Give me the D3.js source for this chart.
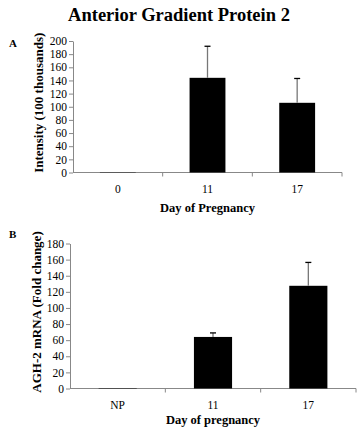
<!DOCTYPE html>
<html>
<head>
<meta charset="utf-8">
<script src="https://cdn.jsdelivr.net/npm/d3@7"></script>
<style>
  body { margin: 0; background: #fff; }
  text { font-family: "Liberation Serif", "Times New Roman", serif; }
</style>
</head>
<body>
<div id="chart"></div>
<script>
// Panel A data
const catsA = ["0", "11", "17"];
const valuesA = [0.5, 144, 106];
const errorsA = [0, 48, 37];
const ticksA = [0, 20, 40, 60, 80, 100, 120, 140, 160, 180, 200];

// Panel B data
const catsB = ["NP", "11", "17"];
const valuesB = [0.5, 64, 127.5];
const errorsB = [0, 5, 29];
const ticksB = [0, 20, 40, 60, 80, 100, 120, 140, 160, 180];

const svg = d3.select("#chart").append("svg")
    .attr("width", 358)
    .attr("height", 428);

// Title
svg.append("text")
    .attr("x", 179)
    .attr("y", 21)
    .attr("text-anchor", "middle")
    .style("font-size", "18.5px")
    .style("font-weight", "bold")
    .text("Anterior Gradient Protein 2");

function drawPanel(opts) {
    const g = svg.append("g");

    const x = d3.scaleBand()
        .domain(opts.cats)
        .range([opts.left, opts.right])
        .paddingInner(0.6)
        .paddingOuter(0.3);

    const y = d3.scaleLinear()
        .domain([0, opts.ymax])
        .range([opts.bottom, opts.top]);

    // y axis
    const yAxis = g.append("g")
        .attr("transform", `translate(${opts.left},0)`)
        .call(d3.axisLeft(y).tickValues(opts.ticks).tickSize(4).tickSizeOuter(0));
    yAxis.select(".domain").attr("stroke", "#888");
    yAxis.selectAll(".tick line").attr("stroke", "#888");
    yAxis.selectAll(".tick text")
        .attr("x", -6)
        .style("font-size", "11.5px")
        .style("font-family", "Liberation Serif")
        .attr("fill", "#000");

    // x axis line + boundary ticks
    const step = (opts.right - opts.left) / opts.cats.length;
    g.append("line")
        .attr("x1", opts.left).attr("x2", opts.right)
        .attr("y1", opts.bottom).attr("y2", opts.bottom)
        .attr("stroke", "#888");
    opts.cats.forEach((c, i) => {
        const bx = opts.left + step * (i + 1);
        g.append("line")
            .attr("x1", bx).attr("x2", bx)
            .attr("y1", opts.bottom).attr("y2", opts.bottom + 4)
            .attr("stroke", "#888");
        g.append("text")
            .attr("x", x(c) + x.bandwidth() / 2)
            .attr("y", opts.bottom + 20)
            .attr("text-anchor", "middle")
            .style("font-size", "11.5px")
            .text(c);
    });

    // bars
    g.selectAll(".bar")
        .data(opts.values)
        .enter().append("rect")
        .attr("x", (d, i) => x(opts.cats[i]))
        .attr("y", d => y(d))
        .attr("width", x.bandwidth())
        .attr("height", d => opts.bottom - y(d))
        .attr("fill", "#000");

    // error bars (upper only)
    opts.values.forEach((v, i) => {
        if (!opts.errors[i]) return;
        const cx = x(opts.cats[i]) + x.bandwidth() / 2;
        g.append("line")
            .attr("x1", cx).attr("x2", cx)
            .attr("y1", y(v)).attr("y2", y(v + opts.errors[i]))
            .attr("stroke", "#777")
            .attr("stroke-width", 1.3);
        g.append("line")
            .attr("x1", cx - 3).attr("x2", cx + 3)
            .attr("y1", y(v + opts.errors[i])).attr("y2", y(v + opts.errors[i]))
            .attr("stroke", "#000")
            .attr("stroke-width", 1.3);
    });

    // x label
    g.append("text")
        .attr("x", (opts.left + opts.right) / 2)
        .attr("y", opts.bottom + opts.xlabelDy)
        .attr("text-anchor", "middle")
        .style("font-size", "12.5px")
        .style("font-weight", "bold")
        .text(opts.xlabel);

    // y label
    g.append("text")
        .attr("transform", `translate(${opts.ylabelX},${(opts.top + opts.bottom) / 2 - 4}) rotate(-90)`)
        .attr("text-anchor", "middle")
        .style("font-size", "13px")
        .style("font-weight", "bold")
        .text(opts.ylabel);

    // panel letter
    g.append("text")
        .attr("x", 9)
        .attr("y", opts.letterY)
        .style("font-size", "11px")
        .style("font-weight", "bold")
        .text(opts.letter);
}

drawPanel({
    cats: catsA, values: valuesA, errors: errorsA, ticks: ticksA, ymax: 200,
    left: 73, right: 342, top: 41, bottom: 172.5,
    xlabel: "Day of Pregnancy", ylabel: "Intensity (100 thousands)",
    ylabelX: 43, xlabelDy: 39, letter: "A", letterY: 47
});

drawPanel({
    cats: catsB, values: valuesB, errors: errorsB, ticks: ticksB, ymax: 180,
    left: 70, right: 356, top: 243.5, bottom: 388.5,
    xlabel: "Day of pregnancy", ylabel: "AGH-2 mRNA (Fold change)",
    ylabelX: 41, xlabelDy: 35, letter: "B", letterY: 238
});
</script>
</body>
</html>
